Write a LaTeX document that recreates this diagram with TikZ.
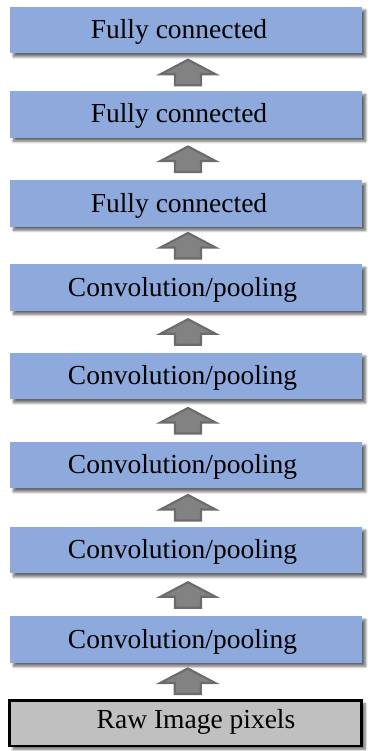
\documentclass[tikz,border=0pt]{standalone}
\usepackage{fontspec}
\setmainfont{Liberation Serif}
\usetikzlibrary{calc,shadows.blur}

\definecolor{layerblue}{RGB}{142,169,219}
\definecolor{rawgray}{RGB}{192,192,192}
\definecolor{arrowfill}{RGB}{130,130,130}
\definecolor{arrowedge}{RGB}{108,108,108}

\tikzset{
  softshadow/.style={blur shadow={shadow xshift=3.5pt, shadow yshift=-3.5pt,
      shadow blur radius=2.5pt, shadow opacity=60, shadow blur steps=8}},
  layer/.style={rectangle, fill=layerblue, inner sep=0pt,
      minimum width=352pt, minimum height=46.5pt, softshadow},
  rawbox/.style={rectangle, fill=rawgray, draw=black, line width=2.5pt,
      inner sep=0pt, minimum width=352pt, minimum height=45.5pt, softshadow},
  lbl/.style={anchor=base, inner sep=0pt,
      font=\fontsize{27.5}{33}\selectfont},
  blockarrow/.style={fill=arrowfill, draw=arrowedge, line width=2.2pt,
      line join=miter},
}

% block arrow pointing from the lower box #1 up to the upper box #2
\newcommand{\liftarrow}[2]{%
  \path ($(#1.north)!0.5!(#2.south)$) ++(2,0) coordinate (m);
  \draw[blockarrow] (m) ++(0,-12.5) -- ++(27.5,14.5) -- ++(-14.5,0)
    -- ++(0,11) -- ++(-26,0) -- ++(0,-11) -- ++(-14.5,0) -- cycle;}

\begin{document}
\begin{tikzpicture}[x=1pt,y=-1pt]
  \useasboundingbox (0,0) rectangle (374,751);

  % layer boxes, top to bottom
  \node[layer] (b1) at (186,30)    {};
  \node[layer] (b2) at (186,114.5) {};
  \node[layer] (b3) at (186,203.5) {};
  \node[layer] (b4) at (186,287.5) {};
  \node[layer] (b5) at (186,376)   {};
  \node[layer] (b6) at (186,465)   {};
  \node[layer] (b7) at (186,550)   {};
  \node[layer] (b8) at (186,639.5) {};
  \node[rawbox] (b9) at (185.5,723) {};

  % labels
  \node[lbl] (t1) at (179,38.5)    {Fully connected};
  \node[lbl] (t2) at (179,123)     {Fully connected};
  \node[lbl] (t3) at (179,212)     {Fully connected};
  \node[lbl] (t4) at (182.5,296)   {Convolution/pooling};
  \node[lbl] (t5) at (182.5,384.5) {Convolution/pooling};
  \node[lbl] (t6) at (182.5,473.5) {Convolution/pooling};
  \node[lbl] (t7) at (182.5,558.5) {Convolution/pooling};
  \node[lbl] (t8) at (182.5,648.5) {Convolution/pooling};
  \node[lbl] (t9) at (196,728.5)   {Raw Image pixels};

  % arrows between consecutive layers
  \liftarrow{b2}{b1}
  \liftarrow{b3}{b2}
  \liftarrow{b4}{b3}
  \liftarrow{b5}{b4}
  \liftarrow{b6}{b5}
  \liftarrow{b7}{b6}
  \liftarrow{b8}{b7}
  \liftarrow{b9}{b8}
\end{tikzpicture}
\end{document}
